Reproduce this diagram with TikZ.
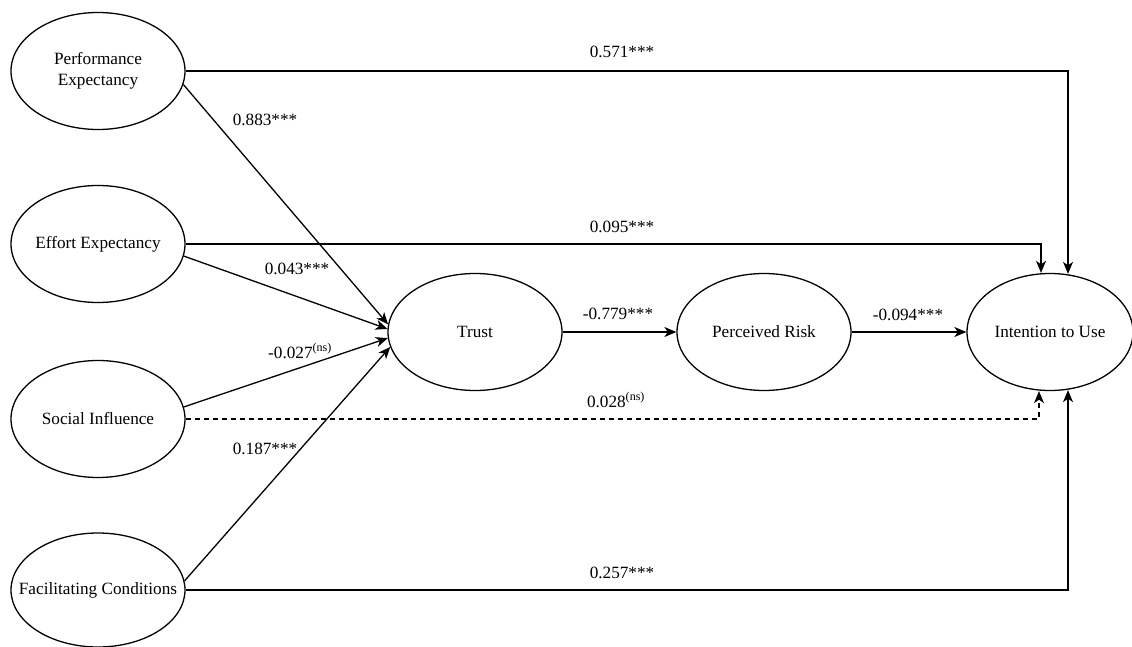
\documentclass[tikz,border=0pt]{standalone}
\usepackage{fontspec}
\setmainfont{Liberation Serif}
\usetikzlibrary{shapes.geometric,arrows.meta,calc}
\begin{document}
\begin{tikzpicture}[x=1pt,y=-1pt,
  lat/.style={ellipse,draw,line width=1.3pt,minimum width=174pt,minimum height=117pt,inner sep=0pt,align=center,font=\fontsize{17.2}{21}\selectfont},
  lbl/.style={font=\fontsize{17.2}{19.5}\selectfont,inner sep=0pt,anchor=base},
  conn/.style={line width=1.3pt,-{Stealth[length=12pt,width=10pt,inset=3.5pt]}},
  dashconn/.style={conn,dash pattern=on 5pt off 4pt}
]
\useasboundingbox (0,0) rectangle (1132,647);
\node[lat] (PE) at (98,71) {Performance\\Expectancy};
\node[lat] (EE) at (98,244) {\makebox[0pt]{Effort Expectancy}};
\node[lat] (SI) at (98,419) {\makebox[0pt]{Social Influence}};
\node[lat,minimum height=114pt] (FC) at (98,590) {\makebox[0pt]{Facilitating Conditions}};
\node[lat] (T) at (475,332) {Trust};
\node[lat] (PR) at (764,332) {\makebox[0pt]{Perceived Risk}};
\node[lat,minimum width=166pt] (IU) at (1050,332) {\makebox[0pt]{Intention to Use}};

\draw[conn] (PE.-9) -- (T.175);
\draw[conn] (EE.-8) -- (T.178.5);
\draw[conn] (SI.8) -- (T.184);
\draw[conn] (FC.6) -- (T.190.5);

\draw[conn] (PE.east) -| ($(IU.north)+(18,1)$);
\draw[conn] (EE.east) -| ($(IU.north)+(-9,0)$);
\draw[dashconn] (SI.east) -| ($(IU.south)+(-11,0)$);
\draw[conn] (FC.east) -| ($(IU.south)+(18,-1)$);

\draw[conn] (T) -- (PR);
\draw[conn] (PR) -- (IU);

\node[lbl] (l1) at (622,58) {0.571***};
\node[lbl] (l2) at (265,126) {0.883***};
\node[lbl] (l3) at (622,233) {0.095***};
\node[lbl] (l4) at (297,274) {0.043***};
\node[lbl] (l5) at (618,319) {-0.779***};
\node[lbl] (l6) at (908,320) {-0.094***};
\node[lbl] (l7) at (300,358) {-0.027\textsuperscript{(ns)}};
\node[lbl] (l8) at (265,454) {0.187***};
\node[lbl] (l9) at (616,407) {0.028\textsuperscript{(ns)}};
\node[lbl] (l10) at (622,578) {0.257***};
\end{tikzpicture}
\end{document}
